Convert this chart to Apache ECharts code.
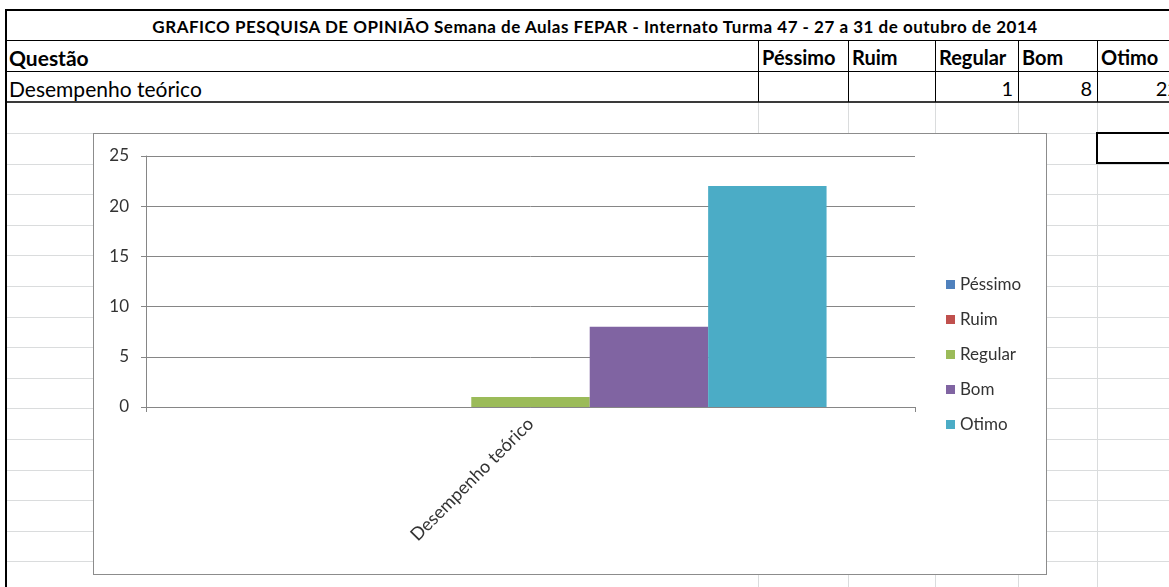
<!DOCTYPE html>
<html>
<head>
<meta charset="utf-8">
<script src="https://cdn.jsdelivr.net/npm/echarts@6/dist/echarts.min.js"></script>
<style>
  body { margin: 0; width: 1169px; height: 587px; overflow: hidden; background: #fff; position: relative; font-family: Lato, "Open Sans", sans-serif; }
  .ln { position: absolute; }
  .cell { position: absolute; white-space: nowrap; color: #000; line-height: 1; }
  #chart { position: absolute; left: 93px; top: 133px; width: 952px; height: 440px; border: 1px solid #8c8c8c; background: #fff; }
</style>
</head>
<body>
<div id="chart"></div>
<script>
const title = 'GRAFICO PESQUISA DE OPINIÃO Semana de Aulas FEPAR - Internato Turma 47 - 27 a 31 de outubro de 2014'
const questionHeader = 'Questão'
const categories = ['Desempenho teórico']
const levels = ['Péssimo', 'Ruim', 'Regular', 'Bom', 'Otimo']
// respostas por nível (vazio = sem resposta)
const pessimo = [null]
const ruim = [null]
const regular = [1]
const bom = [8]
const otimo = [22]
const yTicks = [0, 5, 10, 15, 20, 25]
const colors = ['#4f81bd', '#c0504d', '#9bbb59', '#8064a2', '#4bacc6']

const values = [pessimo, ruim, regular, bom, otimo]

// ---- spreadsheet grid ----
const colX = [7, 758, 848, 935, 1018, 1097, 1184]
function line(x, y, w, h, c) {
  const d = document.createElement('div')
  d.className = 'ln'
  d.style.cssText = `left:${x}px;top:${y}px;width:${w}px;height:${h}px;background:${c}`
  document.body.insertBefore(d, document.getElementById('chart'))
}
function text(s, x, y, size, bold, align, w, spacing) {
  const d = document.createElement('div')
  d.className = 'cell'
  d.textContent = s
  d.style.left = x + 'px'
  d.style.top = y + 'px'
  d.style.fontSize = size + 'px'
  if (bold) d.style.fontWeight = 'bold'
  if (spacing) d.style.letterSpacing = spacing + 'px'
  if (w) { d.style.width = w + 'px'; d.style.textAlign = align }
  document.body.insertBefore(d, document.getElementById('chart'))
}
// light gridlines below the table
for (let i = 0; i < 15; i++) {
  const y = Math.round(133 + i * 30.6)
  line(7, y, 1169, 1, '#dadcdd')
}
for (let i = 1; i < colX.length - 1; i++) line(colX[i], 102, 1, 500, '#dadcdd')
// table borders
line(5, 9, 1169, 2, '#000')
line(5, 9, 2, 580, '#000')
line(7, 40, 1169, 1, '#000')
line(7, 71, 1169, 1, '#000')
line(7, 101, 1169, 2, '#3a3a3a')
for (let i = 1; i < colX.length - 1; i++) line(colX[i], 40, 1, 62, '#000')
// selected cell
const sel = document.createElement('div')
sel.className = 'ln'
sel.style.cssText = 'left:1096px;top:132px;width:80px;height:28px;border:2px solid #000'
document.body.insertBefore(sel, document.getElementById('chart'))

text(title, 7, 18, 17, true, 'center', 1176, 0.5)
text(questionHeader, 9, 47, 21, true)
levels.forEach((l, i) => text(l, colX[i + 1] + 4, 47, 20, true))
text(categories[0], 9, 78, 21, false)
values.forEach((v, i) => {
  if (v[0] != null) text(String(v[0]), colX[i + 1], 78, 20, false, 'right', colX[i + 2] - colX[i + 1] - 5)
})

// ---- chart ----
const chart = echarts.init(document.getElementById('chart'))
const axisColor = '#868686'
const labelColor = '#333'
chart.setOption({
  animation: false,
  color: colors,
  textStyle: { fontFamily: 'Lato, "Open Sans", sans-serif' },
  grid: { left: 52, right: 131, top: 22, bottom: 167 },
  legend: {
    orient: 'vertical',
    left: 847,
    top: 137,
    icon: 'rect',
    itemWidth: 9,
    itemHeight: 9,
    itemGap: 18,
    textStyle: { fontSize: 17, color: labelColor, lineHeight: 17 },
    data: levels
  },
  xAxis: {
    type: 'category',
    data: categories,
    axisLine: { lineStyle: { color: axisColor } },
    axisTick: { show: true, length: 5, lineStyle: { color: axisColor } },
    axisLabel: { rotate: 45, fontSize: 18, color: labelColor, margin: 14 }
  },
  yAxis: {
    type: 'value',
    min: 0,
    max: 25,
    interval: 5,
    axisLine: { show: true, lineStyle: { color: axisColor } },
    axisTick: { show: true, length: 5, lineStyle: { color: axisColor } },
    axisLabel: { fontSize: 17, color: labelColor, margin: 17 },
    splitLine: { lineStyle: { color: axisColor } }
  },
  series: levels.map((name, i) => ({
    name,
    type: 'bar',
    data: values[i],
    barGap: '0%',
    barCategoryGap: '23%'
  }))
})
</script>
</body>
</html>
